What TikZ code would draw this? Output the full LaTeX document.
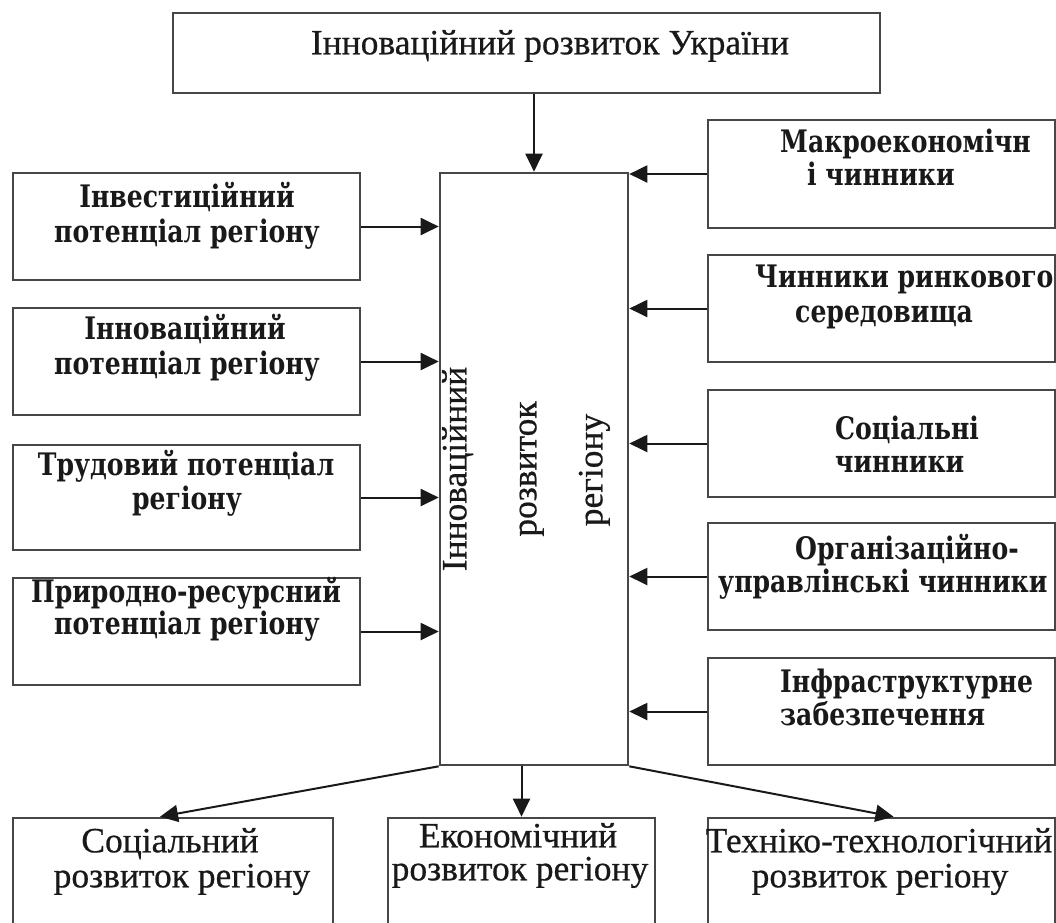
\documentclass[tikz,border=0pt]{standalone}
\usepackage{fontspec}
\setmainfont{Liberation Serif}[FakeBold=0.6]
\newfontfamily\bfont{DejaVu Serif Bold}[FakeStretch=0.81]
\usetikzlibrary{arrows.meta}
\tikzset{
  box/.style={draw=black!72, line width=2.6pt, rectangle, inner sep=0pt},
  arr/.style={draw=black!90, line width=2pt, -{Triangle[length=18pt,width=17pt]}},
  bt/.style={font=\bfont\fontsize{31}{35}\selectfont, inner sep=0pt, text=black!90},
  rt/.style={font=\fontsize{35.5}{35}\selectfont, inner sep=0pt, text=black!90},
}
\begin{document}
\begin{tikzpicture}[x=1pt,y=-1pt]
\useasboundingbox (0,0) rectangle (1056,922);
% boxes
\node[box, minimum width=707, minimum height=80] (top) at (526.5,53) {};
\node[box, minimum width=188, minimum height=592] (c) at (534,469) {};
\node[box, minimum width=347, minimum height=107] (l1) at (186.5,226.5) {};
\node[box, minimum width=347, minimum height=107] (l2) at (186.5,361.5) {};
\node[box, minimum width=347, minimum height=105] (l3) at (186.5,497.5) {};
\node[box, minimum width=347, minimum height=107] (l4) at (186.5,631.5) {};
\node[box, minimum width=347, minimum height=108] (r1) at (881.5,174) {};
\node[box, minimum width=347, minimum height=107] (r2) at (881.5,308.5) {};
\node[box, minimum width=347, minimum height=107] (r3) at (881.5,443.5) {};
\node[box, minimum width=347, minimum height=107] (r4) at (881.5,576.5) {};
\node[box, minimum width=347, minimum height=107] (r5) at (881.5,711.5) {};
\node[box, minimum width=320, minimum height=142] (b1) at (173,889) {};
\node[box, minimum width=267, minimum height=142] (b2) at (521.5,889) {};
\node[box, minimum width=347, minimum height=142] (b3) at (881.5,889) {};
% texts
\node[rt, anchor=mid] (tt) at (550,52) {Інноваційний розвиток України};
\node[rt, anchor=mid, rotate=90] (ca) at (464,469) {Інноваційний};
\node[rt, anchor=mid, rotate=90] (cb) at (534,469) {розвиток};
\node[rt, anchor=mid, rotate=90] (cc) at (600,470) {регіону};
\node[bt, anchor=mid] (l1a) at (187,205) {Інвестиційний};
\node[bt, anchor=mid] (l1b) at (187,240) {потенціал регіону};
\node[bt, anchor=mid] (l2a) at (185,337) {Інноваційний};
\node[bt, anchor=mid] (l2b) at (187,372) {потенціал регіону};
\node[bt, anchor=mid] (l3a) at (186,473) {Трудовий потенціал};
\node[bt, anchor=mid] (l3b) at (187,507) {регіону};
\node[bt, anchor=mid] (l4a) at (186,600) {Природно-ресурсний};
\node[bt, anchor=mid] (l4b) at (187,632) {потенціал регіону};
\node[bt, anchor=mid west] (r1a) at (780,150) {Макроекономічн};
\node[bt, anchor=mid west] (r1b) at (807,183) {і чинники};
\node[bt, anchor=mid west] (r2a) at (755,285) {Чинники ринкового};
\node[bt, anchor=mid west] (r2b) at (795,320) {середовища};
\node[bt, anchor=mid west] (r3a) at (835,437) {Соціальні};
\node[bt, anchor=mid west] (r3b) at (835,470) {чинники};
\node[bt, anchor=mid west] (r4a) at (795,557) {Організаційно-};
\node[bt, anchor=mid west] (r4b) at (718,590) {управлінські чинники};
\node[bt, anchor=mid west] (r5a) at (780,690) {Інфраструктурне};
\node[bt, anchor=mid west] (r5b) at (780,723) {забезпечення};
\node[rt, anchor=mid] (b1a) at (170,850) {Соціальний};
\node[rt, anchor=mid] (b1b) at (182,885) {розвиток регіону};
\node[rt, anchor=mid] (b2a) at (518,845) {Економічний};
\node[rt, anchor=mid] (b2b) at (520,878) {розвиток регіону};
\node[rt, anchor=mid] (b3a) at (879,850) {Техніко-технологічний};
\node[rt, anchor=mid] (b3b) at (880,885) {розвиток регіону};
% connectors
\draw[arr] (c.north |- top.south) -- (c.north);
\foreach \n in {l1,l2,l3,l4} \draw[arr] (\n.east) -- (\n.east -| c.west);
\foreach \n in {r1,r2,r3,r4,r5} \draw[arr] (\n.west) -- (\n.west -| c.east);
\draw[arr] (c.south west) -- ([xshift=-13pt]b1.north);
\draw[arr] (b2.north |- c.south) -- (b2.north);
\draw[arr] (c.south east) -- ([xshift=12pt]b3.north);
\end{tikzpicture}
\end{document}
